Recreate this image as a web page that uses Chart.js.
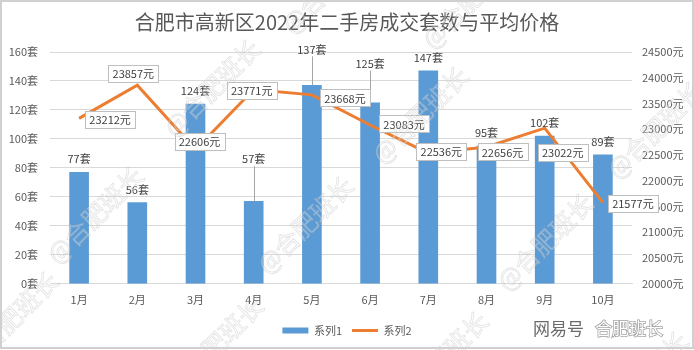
<!DOCTYPE html>
<html>
<head>
<meta charset="utf-8">
<script src="https://cdn.jsdelivr.net/npm/chart.js@4.4.0/dist/chart.umd.min.js"></script>
<style>
  html,body{margin:0;padding:0;background:#fff;}
  canvas{display:block;}
</style>
</head>
<body>
<canvas id="chart" width="694" height="350"></canvas>
<script>
(function(){
  // data
  const months = ['1月','2月','3月','4月','5月','6月','7月','8月','9月','10月'];
  const deals = [77, 56, 124, 57, 137, 125, 147, 95, 102, 89];
  const prices = [23212, 23857, 22606, 23771, 23668, 23083, 22536, 22656, 23022, 21577];
  const dealTicks = [0, 20, 40, 60, 80, 100, 120, 140, 160];
  const priceTicks = [20000, 20500, 21000, 21500, 22000, 22500, 23000, 23500, 24000, 24500];

  // label placement (pixels), kept apart from the data
  const barLift = [0, 0, 0, 29, 23, 26, 0, 0, 0, 0];
  const priceLabelOffset = [[31,1],[-4,-12],[4,-8],[-2,1],[33,3],[34,-1],[13,-2],[16,5],[18,24],[30,1]];

  const FONT = '"Noto Sans CJK SC", "Noto Sans", sans-serif';
  const GREY = '#595959';
  const BLUE = '#5b9bd5';
  const ORANGE = '#ed7d31';

  Chart.defaults.font.family = FONT;
  Chart.defaults.font.size = 11;
  Chart.defaults.color = GREY;

  const barLabels = {
    id: 'barLabels',
    afterDatasetsDraw(chart){
      const ctx = chart.ctx;
      const meta = chart.getDatasetMeta(0);
      ctx.save();
      ctx.font = '11px ' + FONT;
      ctx.fillStyle = '#404040';
      ctx.textAlign = 'center';
      ctx.textBaseline = 'middle';
      meta.data.forEach((bar, i) => {
        const y = bar.y - 13 - barLift[i];
        if(barLift[i] > 0){
          ctx.strokeStyle = '#a6a6a6';
          ctx.lineWidth = 1;
          ctx.beginPath();
          ctx.moveTo(Math.round(bar.x) + 0.5, y + 7);
          ctx.lineTo(Math.round(bar.x) + 0.5, bar.y);
          ctx.stroke();
        }
        ctx.fillText(deals[i] + '套', bar.x, y);
      });
      ctx.restore();
    }
  };

  const priceLabels = {
    id: 'priceLabels',
    afterDatasetsDraw(chart){
      const ctx = chart.ctx;
      const meta = chart.getDatasetMeta(1);
      ctx.save();
      ctx.font = '11px ' + FONT;
      ctx.textAlign = 'center';
      ctx.textBaseline = 'middle';
      meta.data.forEach((pt, i) => {
        const txt = prices[i] + '元';
        const cx = pt.x + priceLabelOffset[i][0];
        const cy = pt.y + priceLabelOffset[i][1];
        const w = Math.round(ctx.measureText(txt).width) + 8;
        const h = 17;
        const x0 = Math.round(cx - w / 2) + 0.5;
        const y0 = Math.round(cy - h / 2) + 0.5;
        ctx.fillStyle = '#fff';
        ctx.fillRect(x0, y0, w, h);
        ctx.strokeStyle = '#bfbfbf';
        ctx.lineWidth = 1;
        ctx.strokeRect(x0, y0, w, h);
        ctx.fillStyle = '#404040';
        ctx.fillText(txt, cx, cy + 0.5);
      });
      ctx.restore();
    }
  };

  // watermark + frame
  const watermark = {
    id: 'watermark',
    afterDraw(chart){
      const ctx = chart.ctx;
      const spots = [[95,215],[212,88],[305,225],[420,115],[545,242],[655,130],[330,-15],[470,0],[10,320],[215,345],[440,360],[640,380]];
      ctx.save();
      ctx.font = '25px ' + FONT;
      ctx.textAlign = 'center';
      ctx.textBaseline = 'middle';
      spots.forEach(s => {
        ctx.save();
        ctx.translate(s[0], s[1]);
        ctx.rotate(-Math.PI / 4);
        ctx.fillStyle = 'rgba(255,255,255,0.3)';
        ctx.fillText('@合肥班长', 0, 0);
        ctx.strokeStyle = 'rgba(160,160,160,0.3)';
        ctx.lineWidth = 0.8;
        ctx.strokeText('@合肥班长', 0, 0);
        ctx.restore();
      });
      ctx.font = '17px ' + FONT;
      ctx.textAlign = 'left';
      ctx.lineWidth = 2;
      ctx.strokeStyle = 'rgba(255,255,255,0.9)';
      ctx.strokeText('网易号', 533, 329);
      ctx.fillStyle = '#6b6b6b';
      ctx.fillText('网易号', 533, 329);
      ctx.lineWidth = 1.5;
      ctx.strokeStyle = 'rgba(120,120,120,0.7)';
      ctx.strokeText('合肥班长', 595, 329);
      ctx.fillStyle = '#fff';
      ctx.fillText('合肥班长', 595, 329);
      ctx.strokeStyle = '#d0d0d0';
      ctx.lineWidth = 2;
      ctx.strokeRect(1, 1, 692, 347);
      ctx.restore();
    }
  };

  new Chart(document.getElementById('chart'), {
    data: {
      labels: months,
      datasets: [
        {
          type: 'bar',
          label: '系列1',
          data: deals,
          backgroundColor: BLUE,
          barThickness: 19,
          yAxisID: 'y',
          order: 2
        },
        {
          type: 'line',
          label: '系列2',
          data: prices,
          borderColor: ORANGE,
          borderWidth: 3,
          pointRadius: 0,
          tension: 0,
          yAxisID: 'y1',
          order: 1
        }
      ]
    },
    options: {
      responsive: false,
      animation: false,
      devicePixelRatio: 1,
      layout: { padding: { top: 0, bottom: 4, left: 0, right: 0 } },
      plugins: {
        title: {
          display: true,
          text: '合肥市高新区2022年二手房成交套数与平均价格',
          color: GREY,
          font: { size: 20, weight: 'normal' },
          padding: { top: 10, bottom: 18 }
        },
        legend: {
          position: 'bottom',
          labels: {
            color: GREY,
            font: { size: 11 },
            usePointStyle: true,
            pointStyleWidth: 26,
            boxHeight: 6,
            padding: 10,
            generateLabels(chart){
              return chart.data.datasets.map((ds, i) => ({
                text: ds.label,
                fillStyle: i === 0 ? BLUE : ORANGE,
                strokeStyle: i === 0 ? BLUE : ORANGE,
                lineWidth: i === 0 ? 0 : 3,
                pointStyle: i === 0 ? 'rect' : 'line',
                fontColor: GREY,
                datasetIndex: i
              }));
            }
          }
        },
        tooltip: { enabled: false }
      },
      scales: {
        x: {
          grid: { display: false, drawTicks: false },
          border: { color: '#d9d9d9' },
          ticks: { padding: 9, color: GREY }
        },
        y: {
          position: 'left',
          min: dealTicks[0],
          max: dealTicks[dealTicks.length - 1],
          afterBuildTicks(s){ s.ticks = dealTicks.map(v => ({ value: v })); },
          afterFit(s){ s.width = 50; },
          grid: { color: '#d9d9d9', drawTicks: false },
          border: { display: false },
          ticks: { padding: 12, color: GREY, callback: v => v + '套' }
        },
        y1: {
          position: 'right',
          min: priceTicks[0],
          max: priceTicks[priceTicks.length - 1],
          afterBuildTicks(s){ s.ticks = priceTicks.map(v => ({ value: v })); },
          afterFit(s){ s.width = 62; },
          grid: { display: false, drawTicks: false },
          border: { display: false },
          ticks: { padding: 10, color: GREY, callback: v => v + '元' }
        }
      }
    },
    plugins: [barLabels, priceLabels, watermark]
  });
})();
</script>
</body>
</html>
